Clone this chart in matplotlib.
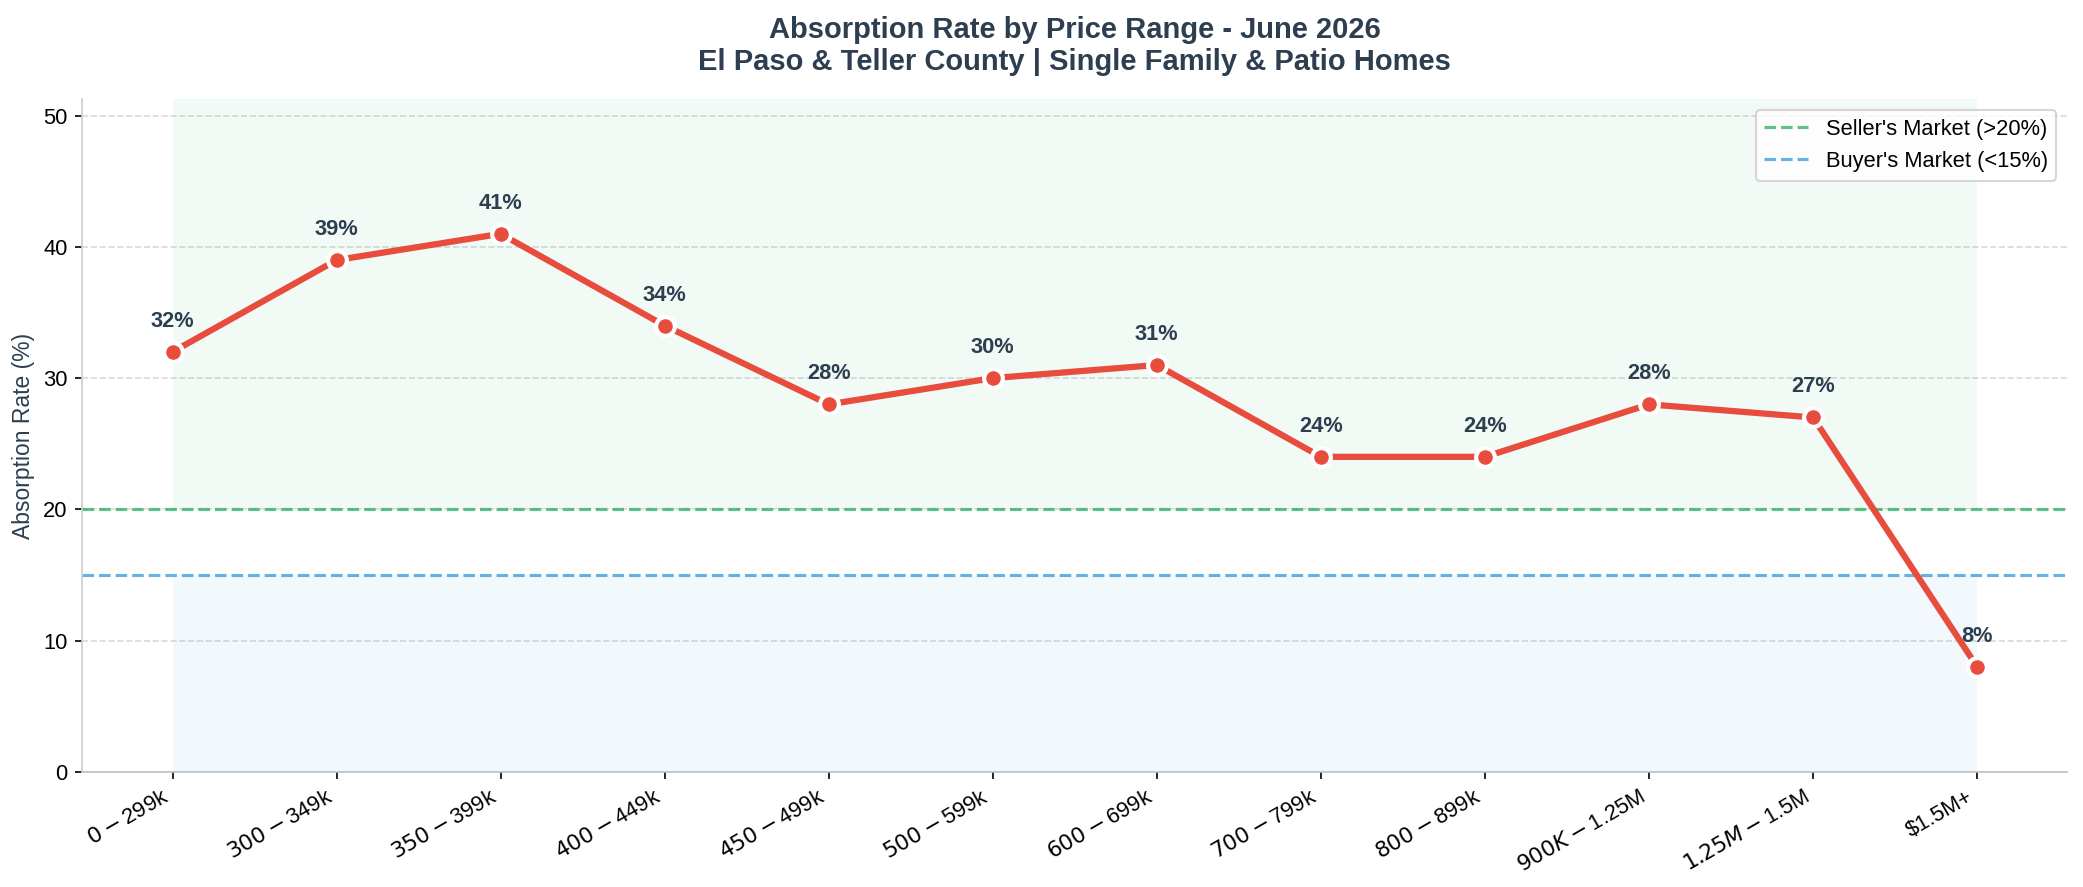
import numpy as np
import matplotlib
matplotlib.use("Agg")
from matplotlib import pyplot as plt

plt.rcParams['font.family'] = ['Liberation Sans', 'DejaVu Sans']

price_ranges = ["$0-$299k", "$300-$349k", "$350-$399k", "$400-$449k", "$450-$499k",
                "$500-$599k", "$600-$699k", "$700-$799k", "$800-$899k",
                "$900K-$1.25M", "$1.25M-$1.5M", "$1.5M+"]
absorption = [32, 39, 41, 34, 28, 30, 31, 24, 24, 28, 27, 8]
seller_threshold = 20
buyer_threshold = 15

x = np.arange(len(price_ranges))
ymax = max(absorption) * 1.25

fig, ax = plt.subplots(figsize=(2083/150, 887/150), dpi=150)
fig.subplots_adjust(left=0.0395, right=0.9925, top=0.888, bottom=0.130)

# market zones
ax.fill_between(x, seller_threshold, ymax, color="#27ae60", alpha=0.06, linewidth=0)
ax.fill_between(x, 0, buyer_threshold, color="#3498db", alpha=0.06, linewidth=0)
ax.axhline(seller_threshold, color="#27ae60", linestyle="--", linewidth=1.5, alpha=0.75,
           label="Seller's Market (>20%)")
ax.axhline(buyer_threshold, color="#3498db", linestyle="--", linewidth=1.5, alpha=0.75,
           label="Buyer's Market (<15%)")

ax.plot(x, absorption, color="#e74c3c", linewidth=3, marker="o", markersize=9,
        markeredgecolor="white", markeredgewidth=2, zorder=5)

for xi, v in zip(x, absorption):
    ax.annotate(f"{v}%", (xi, v), textcoords="offset points", xytext=(0, 12),
                ha="center", fontsize=10.5, fontweight="bold", color="#2c3e50")

ax.set_xticks(x)
ax.set_xticklabels(price_ranges, rotation=30, ha="right", fontsize=10.5)
ax.tick_params(axis="y", labelsize=10.5)
ax.set_ylim(0, ymax)
ax.set_ylabel("Absorption Rate (%)", fontsize=11, color="#2c3e50")
ax.set_title("Absorption Rate by Price Range - June 2026\nEl Paso & Teller County | Single Family & Patio Homes",
             fontsize=14, fontweight="bold", color="#2c3e50", pad=14)
ax.grid(axis="y", linestyle="--", color="#aaaaaa", alpha=0.45)
ax.set_axisbelow(True)
ax.spines["top"].set_visible(False)
ax.spines["right"].set_visible(False)
ax.spines["left"].set_color("#cccccc")
ax.spines["bottom"].set_color("#bbc3ca")
ax.legend(loc="upper right", fontsize=10.5)

fig.savefig("out.png", dpi=150)
